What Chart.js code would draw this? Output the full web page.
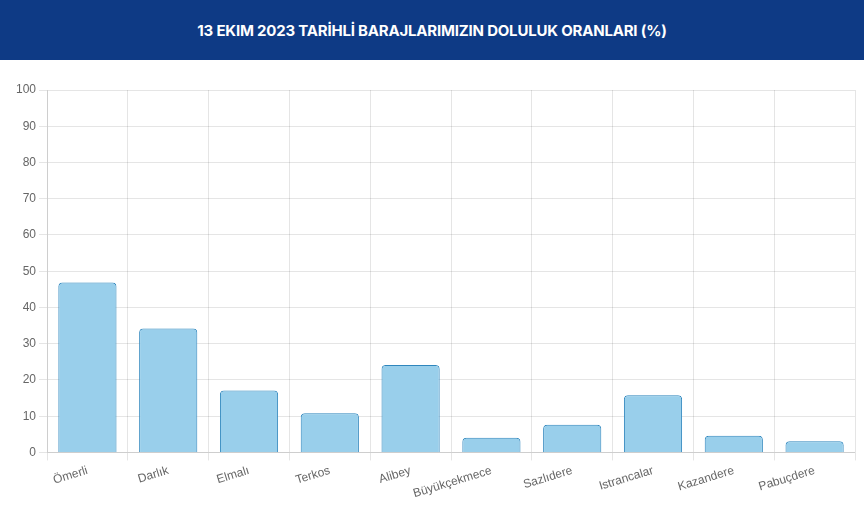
<!DOCTYPE html>
<html lang="tr">
<head>
    <meta charset="UTF-8">
    <title>Baraj Doluluk Oranları</title>
    <style>
        body {
            margin: 0;
            padding: 0;
            background: #fff;
            font-family: Arial, "Liberation Sans", sans-serif;
        }

        /* Başlık bandı */
        .baslik {
            height: 60px;
            background-color: #0e3a85;
            color: #fff;
            display: flex;
            align-items: center;
            justify-content: center;
            font-family: Inter, "Open Sans", sans-serif;
            font-weight: 700;
            font-size: 15px;
            letter-spacing: -0.2px;
        }

        .grafik {
            position: relative;
            width: 864px;
            height: 447px;
        }
    </style>
</head>
<body>

    <div class="baslik">13 EKIM 2023 TARİHLİ BARAJLARIMIZIN DOLULUK ORANLARI (%)</div>

    <div class="grafik">
        <canvas id="barajChart"></canvas>
    </div>

    <script src="https://cdn.jsdelivr.net/npm/chart.js"></script>
    <script>
        // Baraj isimleri ve doluluk oranları (%)
        const barajlar = ['Ömerli', 'Darlık', 'Elmalı', 'Terkos', 'Alibey', 'Büyükçekmece', 'Sazlıdere', 'Istrancalar', 'Kazandere', 'Pabuçdere'];
        const dolulukOranlari = [46.9, 34.2, 17.1, 10.8, 24.1, 4.05, 7.65, 15.75, 4.6, 3.1];
        const yEksenMin = 0;
        const yEksenMax = 100;
        const yEksenAdim = 10;

        const ctx = document.getElementById('barajChart').getContext('2d');

        new Chart(ctx, {
            type: 'bar',
            data: {
                labels: barajlar,
                datasets: [{
                    label: 'Doluluk (%)',
                    data: dolulukOranlari,
                    backgroundColor: '#99cfeb',
                    borderColor: '#2f86bd',
                    borderWidth: 1,
                    borderRadius: 4
                }]
            },
            options: {
                responsive: true,
                maintainAspectRatio: false,
                animation: false,
                layout: {
                    padding: { top: 30, right: 9, left: 13, bottom: 3 }
                },
                plugins: {
                    legend: { display: false },
                    tooltip: { enabled: false }
                },
                scales: {
                    x: {
                        grid: { color: 'rgba(0,0,0,0.1)' },
                        ticks: {
                            color: '#666',
                            font: { size: 12, family: 'Arial, "Liberation Sans", sans-serif' },
                            minRotation: 17,
                            maxRotation: 17,
                            autoSkip: false
                        }
                    },
                    y: {
                        min: yEksenMin,
                        max: yEksenMax,
                        grid: { color: 'rgba(0,0,0,0.1)' },
                        ticks: {
                            stepSize: yEksenAdim,
                            color: '#666',
                            font: { size: 12, family: 'Arial, "Liberation Sans", sans-serif' }
                        }
                    }
                }
            }
        });
    </script>

</body>
</html>
